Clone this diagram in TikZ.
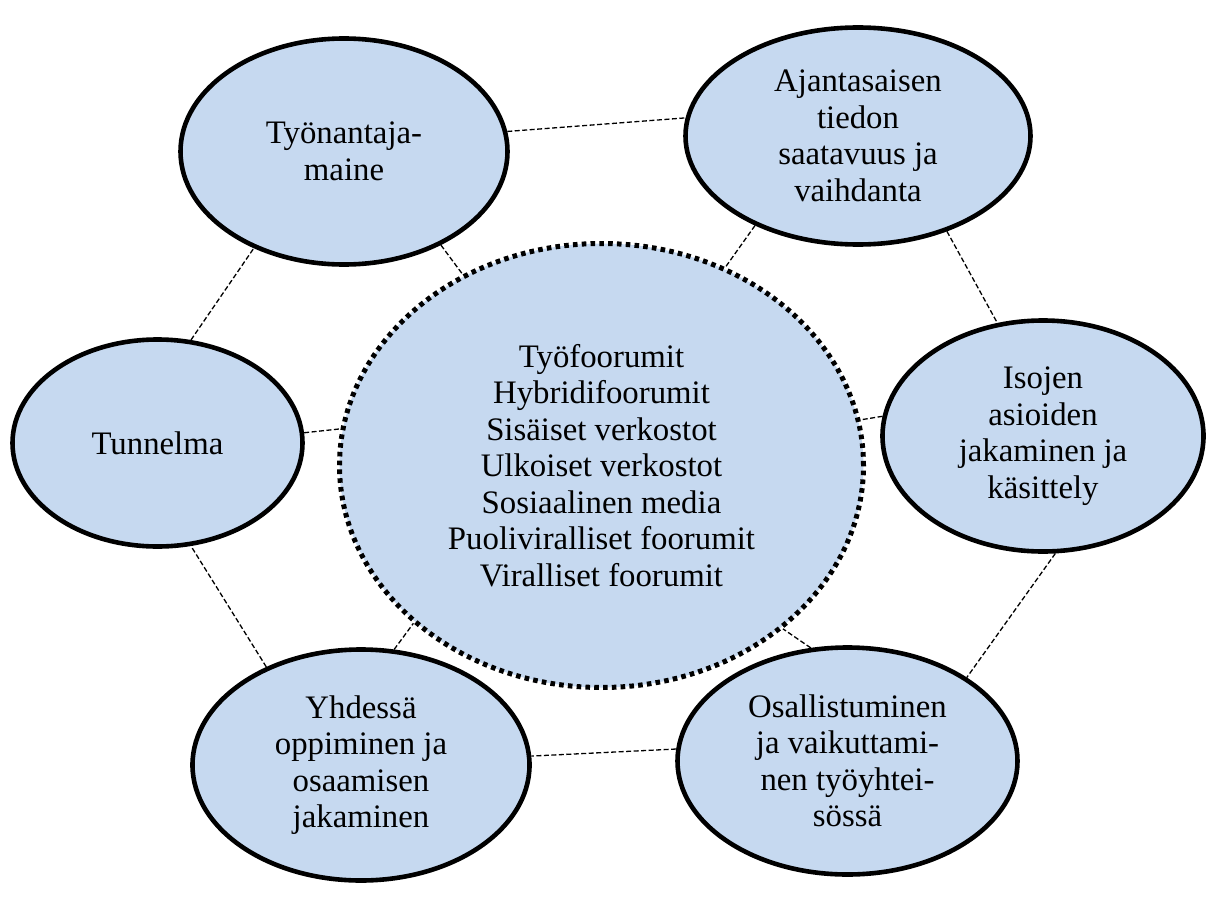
\documentclass[tikz,border=0pt]{standalone}
\usepackage{fontspec}
\setmainfont{Liberation Serif}
\usetikzlibrary{shapes.geometric}
\definecolor{bubblefill}{RGB}{198,217,240}

\begin{document}
\begin{tikzpicture}[x=1pt, y=-1pt,
    bubble/.style={ellipse, draw=black, line width=4.6pt, fill=bubblefill, inner sep=0pt,
        align=center, font=\fontsize{32.8}{36.5}\selectfont},
    hub/.style={bubble, line width=5pt, dash pattern=on 4.6pt off 4.2pt},
    link/.style={black, line width=1.3pt, dash pattern=on 5pt off 2.5pt}]
    \useasboundingbox (0,0) rectangle (1207,899);

    % centre
    \node[hub, minimum width=524pt, minimum height=444pt] (forums) at (601.5,465.5)
        {Työfoorumit\\Hybridifoorumit\\Sisäiset verkostot\\Ulkoiset verkostot\\Sosiaalinen media\\Puoliviralliset foorumit\\Viralliset foorumit};

    % ring
    \node[bubble, minimum width=327pt, minimum height=226pt] (maine) at (344,151.5) {Työnantaja-\\maine};
    \node[bubble, minimum width=345pt, minimum height=217pt] (tieto) at (858,136) {Ajantasaisen\\tiedon\\saatavuus ja\\vaihdanta};
    \node[bubble, minimum width=321pt, minimum height=231pt] (isot) at (1043,436) {Isojen\\asioiden\\jakaminen ja\\käsittely};
    \node[bubble, minimum width=290pt, minimum height=207pt] (tunnelma) at (157.5,443) {Tunnelma};
    \node[bubble, minimum width=337pt, minimum height=231pt] (oppiminen) at (361,765) {Yhdessä\\oppiminen ja\\osaamisen\\jakaminen};
    \node[bubble, minimum width=340pt, minimum height=227pt] (osallisuus) at (847.5,761) {Osallistuminen\\ja vaikuttami-\\nen työyhtei-\\sössä};

    % links round the ring
    \draw[link] (maine.7.4) -- (tieto.174.5);
    \draw[link] (tieto.313) -- (isot.112);
    \draw[link] (isot.276) -- (osallisuus.35.4);
    \draw[link] (osallisuus.176.7) -- (oppiminen.3.6);
    \draw[link] (oppiminen.134) -- (tunnelma.288.5);
    \draw[link] (tunnelma.72) -- (maine.227);

    % links to the centre
    \draw[link] (maine.316) -- (forums.126.2);
    \draw[link] (tieto.221) -- (forums.58.4);
    \draw[link] (isot.173.7) -- (forums.10.3);
    \draw[link] (osallisuus.108.1) -- (forums.318.6);
    \draw[link] (oppiminen.74.8) -- (forums.220.5);
    \draw[link] (tunnelma.4.3) -- (forums.172.5);
\end{tikzpicture}
\end{document}
